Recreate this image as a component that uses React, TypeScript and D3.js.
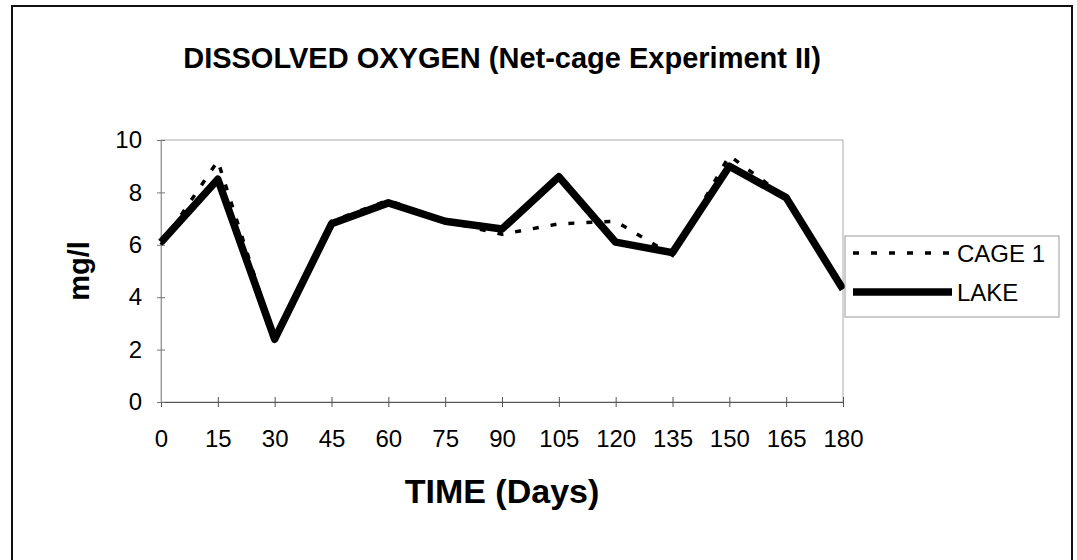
import { useEffect, useRef } from 'react';
import * as d3 from 'd3';

// sampling days and dissolved oxygen (mg/l)
const days = [0, 15, 30, 45, 60, 75, 90, 105, 120, 135, 150, 165, 180];
const cage1 = [6.0, 9.2, 2.4, 6.9, 7.7, 6.9, 6.4, 6.8, 6.9, 5.6, 9.4, 7.8, 4.3];
const lake = [6.1, 8.5, 2.4, 6.8, 7.6, 6.9, 6.6, 8.6, 6.1, 5.7, 9.0, 7.8, 4.3];
const yTicks = [0, 2, 4, 6, 8, 10];
const seriesNames = ['CAGE 1', 'LAKE'];

const FONT = '"Liberation Sans", Arial, Helvetica, sans-serif';
const W = 1077;
const H = 560;

export default function App() {
  const svgRef = useRef<SVGSVGElement>(null);

  useEffect(() => {
    if (!svgRef.current) return;
    const svg = d3.select(svgRef.current);
    svg.selectAll('*').remove();

    const margin = { left: 161, right: W - 843, top: 140, bottom: H - 402 };
    const x = d3.scaleLinear().domain([0, 180]).range([margin.left, W - margin.right]);
    const y = d3.scaleLinear().domain([0, 10]).range([H - margin.bottom, margin.top]);

    // outer frame (bottom edge falls off the page)
    svg.append('path')
      .attr('d', `M12,${H} L12,6 L1072,6 L1072,${H}`)
      .attr('fill', 'none')
      .attr('stroke', '#111')
      .attr('stroke-width', 2);

    // plot area border
    svg.append('rect')
      .attr('x', x(0))
      .attr('y', y(10))
      .attr('width', x(180) - x(0))
      .attr('height', y(0) - y(10))
      .attr('fill', 'none')
      .attr('stroke', '#aaa')
      .attr('stroke-width', 1);

    // x axis
    const xAxis = svg.append('g')
      .attr('transform', `translate(0,${y(0)})`)
      .call(d3.axisBottom(x).tickValues(days).tickSizeOuter(0).tickFormat(d3.format('d')));
    xAxis.select('.domain').attr('stroke', '#555');
    xAxis.selectAll('.tick line').attr('y1', -5).attr('y2', 5).attr('stroke', '#555');
    xAxis.selectAll('.tick text')
      .attr('y', 45)
      .attr('dy', 0)
      .attr('fill', '#000')
      .style('font-family', FONT)
      .style('font-size', '24px');

    // y axis
    const yAxis = svg.append('g')
      .attr('transform', `translate(${x(0)},0)`)
      .call(d3.axisLeft(y).tickValues(yTicks).tickSizeOuter(0).tickSizeInner(4).tickPadding(15));
    yAxis.select('.domain').attr('stroke', '#999');
    yAxis.selectAll('.tick line').attr('x1', -4).attr('x2', 4).attr('stroke', '#777');
    yAxis.selectAll('.tick text')
      .attr('fill', '#000')
      .style('font-family', FONT)
      .style('font-size', '24px');

    const line = d3.line<number>()
      .x((_, i) => x(days[i]))
      .y(d => y(d));

    svg.append('path')
      .datum(cage1)
      .attr('d', line)
      .attr('fill', 'none')
      .attr('stroke', '#000')
      .attr('stroke-width', 3.5)
      .attr('stroke-dasharray', '6,12');

    svg.append('path')
      .datum(lake)
      .attr('d', line)
      .attr('fill', 'none')
      .attr('stroke', '#000')
      .attr('stroke-width', 7.5)
      .attr('stroke-linejoin', 'round');

    // legend
    const legend = svg.append('g');
    legend.append('rect')
      .attr('x', 845)
      .attr('y', 236)
      .attr('width', 214)
      .attr('height', 81)
      .attr('fill', '#fff')
      .attr('stroke', '#999')
      .attr('stroke-width', 1);
    seriesNames.forEach((name, i) => {
      const ly = i === 0 ? 253 : 292;
      legend.append('line')
        .attr('x1', 853)
        .attr('x2', 952)
        .attr('y1', ly)
        .attr('y2', ly)
        .attr('stroke', '#000')
        .attr('stroke-width', i === 0 ? 3.5 : 7.5)
        .attr('stroke-dasharray', i === 0 ? '6,12' : null);
      legend.append('text')
        .attr('x', 957)
        .attr('y', ly + 9)
        .style('font-family', FONT)
        .style('font-size', '24px')
        .text(name);
    });

    // titles
    svg.append('text')
      .attr('x', (x(0) + x(180)) / 2)
      .attr('y', 68)
      .attr('text-anchor', 'middle')
      .style('font-family', FONT)
      .style('font-size', '29px')
      .style('font-weight', 'bold')
      .text('DISSOLVED OXYGEN (Net-cage Experiment II)');

    svg.append('text')
      .attr('x', (x(0) + x(180)) / 2)
      .attr('y', 503)
      .attr('text-anchor', 'middle')
      .style('font-family', FONT)
      .style('font-size', '34px')
      .style('font-weight', 'bold')
      .text('TIME (Days)');

    const cy = (y(0) + y(10)) / 2;
    svg.append('text')
      .attr('transform', `translate(89,${cy}) rotate(-90)`)
      .attr('text-anchor', 'middle')
      .style('font-family', FONT)
      .style('font-size', '29px')
      .style('font-weight', 'bold')
      .text('mg/l');
  }, []);

  return (
    <svg
      ref={svgRef}
      width={W}
      height={H}
      style={{ position: 'absolute', left: 0, top: 0, background: '#fff' }}
    />
  );
}
